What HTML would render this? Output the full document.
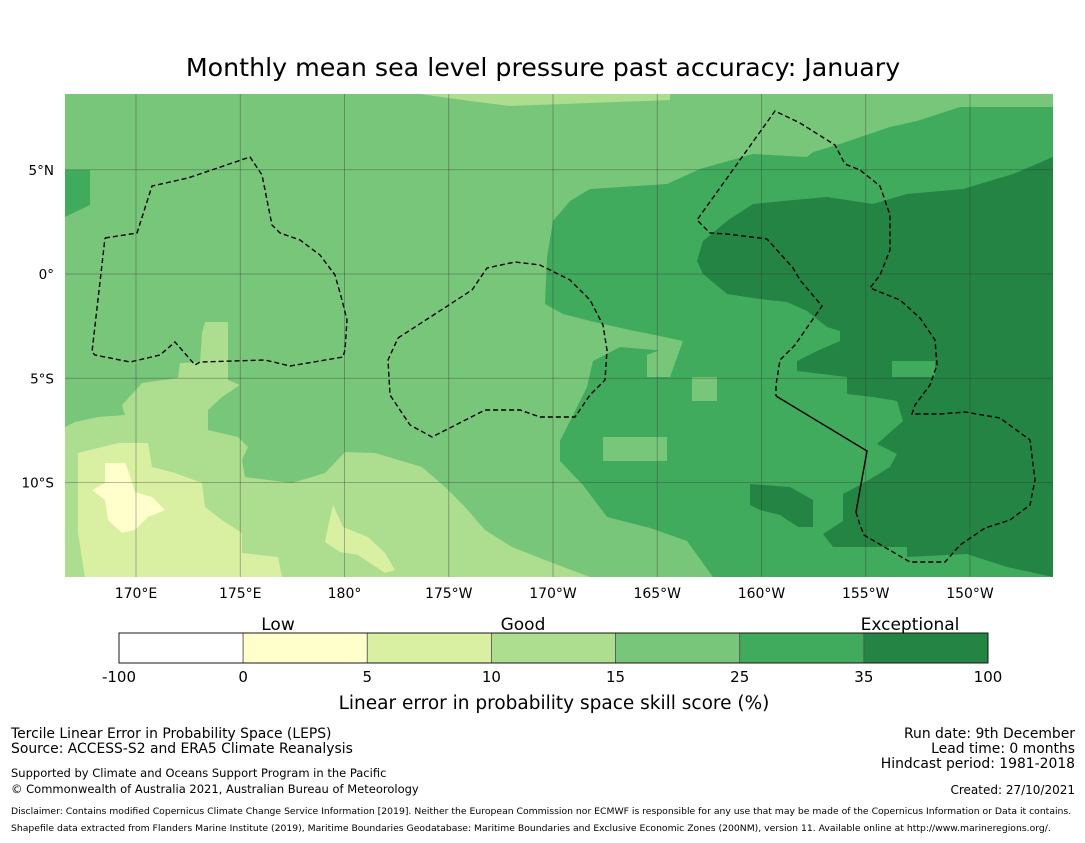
<!DOCTYPE html>
<html><head><meta charset="utf-8"><style>
body{margin:0;background:#fff;width:1085px;height:839px;overflow:hidden;font-family:"DejaVu Sans",sans-serif;}
svg text{font-family:"DejaVu Sans",sans-serif;}
</style></head><body>
<svg id="chart" width="1085" height="839" xmlns="http://www.w3.org/2000/svg">
<text x="543" y="76" font-size="25.3" text-anchor="middle">Monthly mean sea level pressure past accuracy: January</text>
<defs><clipPath id="mc"><rect x="65" y="94" width="988" height="483"/></clipPath></defs>
<g clip-path="url(#mc)">
<rect x="65" y="94" width="988" height="483" fill="#78c679"/>
<polygon fill="#addd8e" points="420,94 670,94 670,100 510,106 470,101"/>
<polygon fill="#41ab5d" points="1053,94 1053,107 960,107 917,121 890,127 840,144 813,152 807,157 753,154 700,169 667,184 590,189 570,201 553,221 547,257 545,304 563,314 590,321 630,330 650,334 683,341 667,351 620,347 593,361 587,387 560,441 560,461 583,485 607,517 650,528 687,541 713,577 1053,577"/>
<polygon fill="#41ab5d" points="65,170 90,170 90,205 65,217"/>
<polygon fill="#78c679" points="692,377 717,377 717,401 692,401"/>
<polygon fill="#78c679" points="603,437 667,437 667,461 603,461"/>
<polygon fill="#78c679" points="647,355 683,341 670,377 647,377"/>
<polygon fill="#238443" points="1053,157 1013,174 963,189 907,194 873,204 827,197 783,201 753,204 727,221 703,241 697,261 703,274 727,294 760,299 787,302 807,311 827,327 840,331 840,341 817,351 797,361 797,371 847,377 847,394 873,397 897,401 903,421 877,444 897,454 890,467 867,481 843,494 843,521 823,534 833,547 907,547 907,557 967,554 1007,567 1053,577"/>
<polygon fill="#41ab5d" points="892,361 935,361 935,377 892,377"/>
<polygon fill="#238443" points="750,484 790,487 813,500 813,527 798,527 780,515 760,510 750,505"/>
<polygon fill="#addd8e" points="65,427 75,422 98,417 125,415 122,405 133,393 142,383 178,378 180,363 200,362 202,333 205,322 228,322 228,380 240,385 222,397 208,410 208,430 238,437 248,447 242,460 245,477 292,483 325,473 345,452 375,453 422,467 445,487 465,507 485,530 512,547 545,560 590,577 65,577"/>
<polygon fill="#d9f0a3" points="78,453 118,443 148,443 152,467 175,473 202,483 205,507 222,520 242,533 242,553 278,557 282,577 85,577 78,533"/>
<polygon fill="#d9f0a3" points="333,505 343,527 368,537 385,553 395,570 385,573 358,555 340,552 325,542 328,527"/>
<polygon fill="#ffffcc" points="105,463 125,463 128,470 135,492 152,497 165,510 148,517 135,530 122,533 108,520 105,500 92,490 105,483"/>
<g id="grid" stroke="#333" stroke-opacity="0.45" stroke-width="0.8"></g>
<g fill="none" stroke="#000" stroke-width="1.4">
<polyline stroke-dasharray="5,3" points="105,238 137,233 152,186 188,178 250,157 262,175 272,225 280,233 300,240 320,255 335,275 342,300 347,320 345,350 343,357 290,366 265,360 200,362 195,365 175,342 160,355 130,362 95,355 92,352 105,238"/>
<polyline stroke-dasharray="5,3" points="398,338 472,290 487,268 515,262 540,265 570,280 590,300 603,325 607,350 605,380 590,395 575,417 540,417 520,410 485,410 432,437 410,425 390,395 388,360 398,338"/>
<polyline stroke-dasharray="5,3" points="856,512 860,525 864,535 910,562 945,562 960,545 985,528 1010,520 1030,505 1035,480 1030,440 1000,418 965,412 940,414 912,414 915,405 930,385 937,365 935,340 920,318 900,300 870,288 880,275 890,250 890,215 880,186 860,170 845,164 835,145 800,123 775,111 697,220 710,233 727,234 767,239 793,268 800,280 822,306 795,345 780,360 776,385 776,396"/>
<polyline points="776,396 867,451 856,512"/>
</g>
</g>
<g id="lonlabels" font-size="14" text-anchor="middle"></g>
<g id="latlabels" font-size="13.5" text-anchor="end"></g>
<g id="cbar"></g>
<text x="278" y="630" font-size="17" text-anchor="middle">Low</text>
<text x="523" y="630" font-size="17" text-anchor="middle">Good</text>
<text x="910" y="630" font-size="17" text-anchor="middle">Exceptional</text>
<text x="554" y="709" font-size="18.5" text-anchor="middle">Linear error in probability space skill score (%)</text>
<g font-size="13">
<text x="11" y="738" font-size="13.9">Tercile Linear Error in Probability Space (LEPS)</text>
<text x="11" y="753" font-size="13.9">Source: ACCESS-S2 and ERA5 Climate Reanalysis</text>
<text x="11" y="777" font-size="11.5">Supported by Climate and Oceans Support Program in the Pacific</text>
<text x="11" y="793" font-size="11.5">© Commonwealth of Australia 2021, Australian Bureau of Meteorology</text>
<text x="11" y="814" font-size="9.25">Disclaimer: Contains modified Copernicus Climate Change Service Information [2019]. Neither the European Commission nor ECMWF is responsible for any use that may be made of the Copernicus Information or Data it contains.</text>
<text x="11" y="831" font-size="9.25">Shapefile data extracted from Flanders Marine Institute (2019), Maritime Boundaries Geodatabase: Maritime Boundaries and Exclusive Economic Zones (200NM), version 11. Available online at http://www.marineregions.org/.</text>
</g>
<g font-size="13.9" text-anchor="end">
<text x="1075" y="738">Run date: 9th December</text>
<text x="1075" y="753">Lead time: 0 months</text>
<text x="1075" y="768">Hindcast period: 1981-2018</text>
<text x="1075" y="794" font-size="12">Created: 27/10/2021</text>
</g>
</svg>
<script>
const NS="http://www.w3.org/2000/svg";
const lonTicks=[170,175,180,-175,-170,-165,-160,-155,-150];
const lonLabels=["170°E","175°E","180°","175°W","170°W","165°W","160°W","155°W","150°W"];
const latTicks=[5,0,-5,-10];
const latLabels=["5°N","0°","5°S","10°S"];
const cbBounds=["-100","0","5","10","15","25","35","100"];
const cbColors=["#ffffff","#ffffcc","#d9f0a3","#addd8e","#78c679","#41ab5d","#238443"];
const pxPerDeg=20.85;
function xLon(l){const e=l<0?l+360:l;return 136+(e-170)*pxPerDeg;}
function yLat(v){return 274-v*pxPerDeg;}
const grid=document.getElementById('grid'),lonG=document.getElementById('lonlabels'),latG=document.getElementById('latlabels');
lonTicks.forEach((l,i)=>{
 const x=xLon(l);
 const ln=document.createElementNS(NS,'line');
 ln.setAttribute('x1',x);ln.setAttribute('x2',x);ln.setAttribute('y1',94);ln.setAttribute('y2',577);
 
 
 grid.appendChild(ln);
 const t=document.createElementNS(NS,'text');
 t.setAttribute('x',x);t.setAttribute('y',598);t.textContent=lonLabels[i];
 
 
 lonG.appendChild(t);
});
latTicks.forEach((v,i)=>{
 const y=yLat(v);
 const ln=document.createElementNS(NS,'line');
 ln.setAttribute('x1',65);ln.setAttribute('x2',1053);ln.setAttribute('y1',y);ln.setAttribute('y2',y);
 
 
 grid.appendChild(ln);
 const t=document.createElementNS(NS,'text');
 t.setAttribute('x',54);t.setAttribute('y',y+5);t.textContent=latLabels[i];
 
 
 latG.appendChild(t);
});
const cb=document.getElementById('cbar');const x0=119,x1=988,w=(x1-x0)/cbColors.length;
cbColors.forEach((c,i)=>{
 const r=document.createElementNS(NS,'rect');
 r.setAttribute('x',x0+i*w);r.setAttribute('y',633);r.setAttribute('width',w);r.setAttribute('height',30);
 r.setAttribute('fill',c);r.setAttribute('stroke','#555');r.setAttribute('stroke-width','0.8');
 
 
 cb.appendChild(r);
});
cbBounds.forEach((b,i)=>{
 const t=document.createElementNS(NS,'text');
 t.setAttribute('x',x0+i*w);t.setAttribute('y',682);t.setAttribute('font-size','15');t.setAttribute('text-anchor','middle');
 t.textContent=b;
 
 
 cb.appendChild(t);
});
const fr=document.createElementNS(NS,'rect');
fr.setAttribute('x',x0);fr.setAttribute('y',633);fr.setAttribute('width',x1-x0);fr.setAttribute('height',30);fr.setAttribute('fill','none');fr.setAttribute('stroke','#000');fr.setAttribute('stroke-width','0.8');


cb.appendChild(fr);
</script>
</body></html>
